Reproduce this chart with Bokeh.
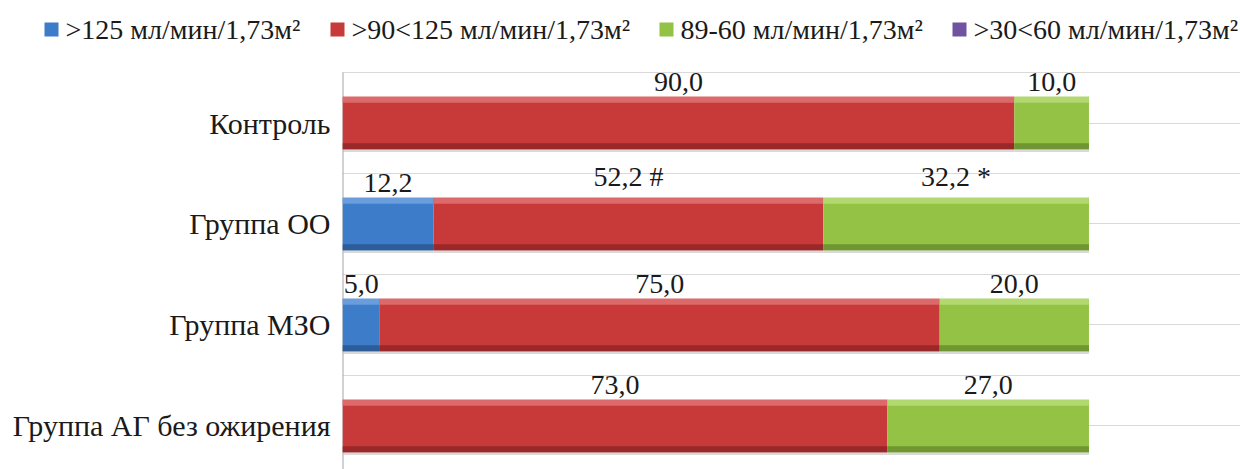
from bokeh.plotting import figure
from bokeh.models import ColumnDataSource, FixedTicker, Range1d
from bokeh.layouts import column
from bokeh.core.properties import value
from bokeh.embed import file_html
from bokeh.resources import INLINE

categories = ["Контроль", "Группа ОО", "Группа МЗО", "Группа АГ без ожирения"]
series_names = [">125 мл/мин/1,73м²", ">90<125 мл/мин/1,73м²", "89-60 мл/мин/1,73м²", ">30<60 мл/мин/1,73м²"]
v125 = [0.0, 12.2, 5.0, 0.0]
v90 = [90.0, 52.2, 75.0, 73.0]
v60 = [10.0, 35.6, 20.0, 27.0]
v30 = [0.0, 0.0, 0.0, 0.0]
lbl125 = ["", "12,2", "5,0", ""]
lbl90 = ["90,0", "52,2 #", "75,0", "73,0"]
lbl60 = ["10,0", "32,2 *", "20,0", "27,0"]
lbl30 = ["", "", "", ""]

colors = ["#3d7cc9", "#c83a3a", "#93c245", "#7052a0"]
light = ["#6a9ddb", "#dc6a6a", "#b2d870", "#9078bb"]
dark = ["#2c5d99", "#9a2828", "#6f9630", "#55397e"]

FONT = "Liberation Serif"
TXT = "#1a1a1a"
n = len(categories)
ypos = [n - 0.5 - i for i in range(n)]

# ---- legend strip (screen-like coordinates, y downwards) ----
LEG_H = 60
lg = figure(width=1240, height=LEG_H, output_backend="svg", toolbar_location=None,
            x_range=Range1d(0, 1240), y_range=Range1d(LEG_H, 0),
            min_border=0, min_border_left=0, min_border_right=0, min_border_top=0, min_border_bottom=0)
lg.frame_align = False
lg.axis.visible = False
lg.grid.visible = False
lg.outline_line_color = None
sq_x = [44, 330, 659, 952]
legend_src = ColumnDataSource(dict(x=[x + 7 for x in sq_x], tx=[x + 21 for x in sq_x],
                                   y=[29] * 4, name=series_names, color=colors))
lg.rect(x="x", y="y", width=14, height=14, source=legend_src, fill_color="color", line_color=None)
lg.text(x="tx", y="y", text="name", source=legend_src, text_align="left", text_baseline="middle",
        text_font=value(FONT), text_font_size="28px", text_color=TXT)

# ---- main chart ----
p = figure(width=1240, height=469 - LEG_H, output_backend="svg", toolbar_location=None,
           x_range=Range1d(0, 120.3), y_range=Range1d(0.069, 4.119),
           min_border_left=342, min_border_right=0, min_border_top=0, min_border_bottom=0)
p.frame_align = False
p.outline_line_color = None
p.xaxis.visible = False
p.xgrid.visible = False
p.ygrid.ticker = FixedTicker(ticks=[0.5 * k for k in range(1, 2 * n + 1)])
p.ygrid.grid_line_color = "#d9d9d9"
p.ygrid.grid_line_width = 1

p.yaxis.ticker = FixedTicker(ticks=ypos)
p.yaxis.major_label_overrides = {y: c for y, c in zip(ypos, categories)}
p.yaxis.major_label_text_font = FONT
p.yaxis.major_label_text_font_size = "30px"
p.yaxis.major_label_text_color = TXT
p.yaxis.major_tick_line_color = None
p.yaxis.minor_tick_line_color = None
p.yaxis.axis_line_color = None
p.yaxis.major_label_standoff = 6

# vertical axis line starting at the top gridline
p.segment(x0=[0], y0=[0.0], x1=[0], y1=[n], line_color="#a6a6a6", line_width=2)

H = 0.52
series = [v125, v90, v60, v30]
labels = [lbl125, lbl90, lbl60, lbl30]
left = [0.0] * n
for s, vals in enumerate(series):
    right = [l + v for l, v in zip(left, vals)]
    src = ColumnDataSource(dict(y=ypos, left=left, right=right,
                                mid=[(l + r) / 2 for l, r in zip(left, right)],
                                top=[y + H / 2 for y in ypos],
                                ytop=[y + H / 2 - 0.03 for y in ypos],
                                ybot=[y - H / 2 + 0.03 for y in ypos],
                                ysh=[y - H / 2 - 0.012 for y in ypos],
                                lab=labels[s]))
    p.hbar(y="ysh", left="left", right="right", height=0.03, source=src,
           fill_color="#bfbfbf", fill_alpha=0.6, line_color=None)
    p.hbar(y="y", left="left", right="right", height=H, source=src,
           fill_color=colors[s], line_color=None)
    p.hbar(y="ytop", left="left", right="right", height=0.06, source=src,
           fill_color=light[s], line_color=None)
    p.hbar(y="ybot", left="left", right="right", height=0.06, source=src,
           fill_color=dark[s], line_color=None)
    p.text(x="mid", y="top", text="lab", source=src, text_align="center",
           text_baseline="bottom", y_offset=-6, text_font=value(FONT),
           text_font_size="28px", text_color=TXT)
    left = right

layout = column(lg, p, spacing=0)
open("out.html", "w").write(file_html(layout, INLINE))
